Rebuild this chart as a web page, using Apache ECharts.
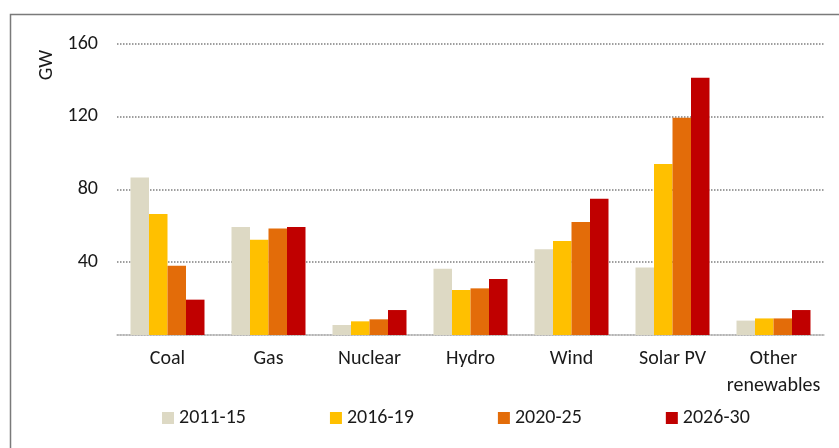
<!DOCTYPE html>
<html>
<head>
<meta charset="utf-8">
<script src="https://cdn.jsdelivr.net/npm/echarts@6/dist/echarts.min.js"></script>
<style>
    html, body { margin: 0; padding: 0; background: #fff; }
    #chart { width: 839px; height: 448px; }
</style>
</head>
<body>
<div id="chart"></div>
<script>
    // categories and values (GW)
    const categories = ['Coal', 'Gas', 'Nuclear', 'Hydro', 'Wind', 'Solar PV', 'Other\nrenewables'];
    const periods = ['2011-15', '2016-19', '2020-25', '2026-30'];
    const p2011 = [86.5, 59.3, 5.5, 36.4, 47.0, 37.1, 7.9];
    const p2016 = [66.4, 52.3, 7.5, 24.7, 51.6, 93.8, 9.1];
    const p2020 = [38.0, 58.5, 8.6, 25.6, 62.0, 119.2, 9.1];
    const p2026 = [19.4, 59.3, 13.7, 30.7, 74.8, 141.2, 13.7];
    const yTicks = [0, 40, 80, 120, 160];

    const colors = ['#DDD9C4', '#FFC000', '#E36C09', '#C00000'];
    const font = 'Carlito, Lato, sans-serif';
    const txt = '#1a1a1a';

    const myChart = echarts.init(document.getElementById('chart'));
    const seriesData = [p2011, p2016, p2020, p2026];

    const option = {
        animation: false,
        color: colors,
        textStyle: { fontFamily: font },
        grid: { left: 117, right: 15, top: 43.5, bottom: 113 },
        legend: {
            data: periods,
            left: 162,
            top: 408,
            padding: 0,
            itemWidth: 12,
            itemHeight: 12,
            itemGap: 84,
            icon: 'rect',
            textStyle: { fontSize: 20, color: txt, fontFamily: font }
        },
        xAxis: {
            type: 'category',
            data: categories,
            axisTick: { show: false },
            axisLine: { lineStyle: { color: '#bfbfbf', width: 1.5 } },
            axisLabel: {
                interval: 0,
                fontSize: 20,
                color: txt,
                margin: 10,
                lineHeight: 27,
                fontFamily: font
            }
        },
        yAxis: {
            type: 'value',
            min: yTicks[0],
            max: yTicks[yTicks.length - 1],
            interval: 40,
            axisLine: { show: false },
            axisTick: { show: false },
            axisLabel: {
                showMinLabel: false,
                fontSize: 20,
                color: txt,
                margin: 19,
                fontFamily: font
            },
            splitLine: { lineStyle: { color: '#7f7f7f', type: 'dotted', width: 1.5 } }
        },
        series: periods.map(function (name, i) {
            return {
                name: name,
                type: 'bar',
                data: seriesData[i],
                barWidth: 18.5,
                barGap: '0%'
            };
        }),
        graphic: [
            {
                type: 'rect',
                shape: { x: 10.5, y: 14.5, width: 900, height: 600 },
                style: { fill: 'none', stroke: '#7a7a7a', lineWidth: 1.5 },
                silent: true
            },
            {
                type: 'text',
                x: 47,
                y: 65,
                rotation: Math.PI / 2,
                style: {
                    text: 'GW',
                    fontSize: 20,
                    fontFamily: font,
                    fill: txt,
                    align: 'center',
                    verticalAlign: 'middle'
                }
            }
        ]
    };
    myChart.setOption(option);
</script>
</body>
</html>
